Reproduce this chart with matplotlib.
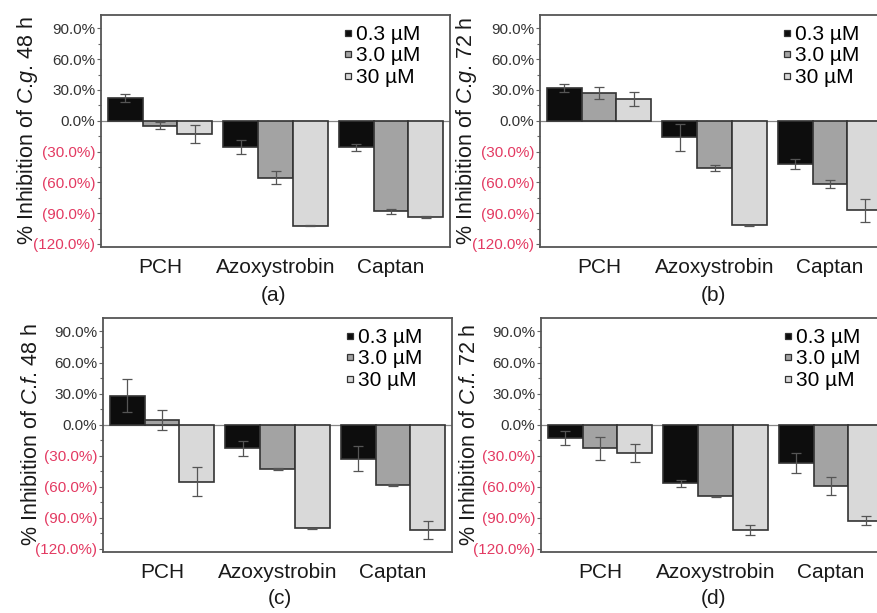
import matplotlib
matplotlib.use("Agg")
import matplotlib.pyplot as plt
import numpy as np
from matplotlib.lines import Line2D
from matplotlib.ticker import MultipleLocator

plt.rcParams["font.family"] = ["Liberation Sans", "DejaVu Sans"]
plt.rcParams["mathtext.fontset"] = "custom"
plt.rcParams["mathtext.rm"] = "Liberation Sans"
plt.rcParams["mathtext.it"] = "Liberation Sans:italic"

compounds = ["PCH", "Azoxystrobin", "Captan"]
doses = ["0.3 µM", "3.0 µM", "30 µM"]
panel_tags = ["(a)", "(b)", "(c)", "(d)"]
ylabels = [r"% Inhibition of $\it{C}$.$\it{g}$. 48 h", r"% Inhibition of $\it{C}$.$\it{g}$. 72 h",
           r"% Inhibition of $\it{C}$.$\it{f}$. 48 h", r"% Inhibition of $\it{C}$.$\it{f}$. 72 h"]

# mean % inhibition, rows = dose (0.3, 3.0, 30 µM), cols = compound
cg48 = [[21.8, -25.7, -25.7], [-4.9, -55.6, -88.4], [-13.0, -102.3, -94.2]]
cg48_err = [[4.0, 7.0, 3.5], [3.5, 6.5, 2.0], [9.0, 0.5, 1.0]]
cg72 = [[31.5, -16.0, -42.0], [27.0, -46.0, -62.0], [20.9, -102.0, -87.4]]
cg72_err = [[3.9, 13.0, 5.0], [5.5, 3.0, 4.0], [7.0, 0.5, 11.4]]
cf48 = [[27.9, -23.0, -33.0], [4.4, -42.5, -58.3], [-55.0, -100.0, -101.7]]
cf48_err = [[16.0, 7.0, 12.0], [10.0, 1.0, 0.5], [14.0, 0.5, 9.0]]
cf72 = [[-12.8, -56.5, -36.7], [-23.0, -69.0, -59.4], [-27.4, -101.5, -92.6]]
cf72_err = [[6.4, 3.5, 9.6], [11.0, 0.5, 8.5], [9.0, 5.0, 4.6]]

values = [cg48, cg72, cf48, cf72]
errors = [cg48_err, cg72_err, cf48_err, cf72_err]

bar_colors = ["#0d0d0d", "#a3a3a3", "#d9d9d9"]
edge = "#333333"
red = "#e33a62"

# axes boxes in pixels (left, top, bottom); right panels run past the edge
W, H = 877, 613
boxes = [(101, 15, 247), (540, 15, 247), (103, 318, 552), (541, 318, 552)]
tag_pos = [(273, 295), (713, 295), (280, 598), (713, 598)]
axw = 349

fig = plt.figure(figsize=(W / 100, H / 100), dpi=100)

x = np.arange(len(compounds))
bw = 0.3

for i in range(4):
    l, t, b = boxes[i]
    ax = fig.add_axes([l / W, 1 - b / H, axw / W, (b - t) / H])
    vals = np.array(values[i])
    errs = np.array(errors[i])
    for j in range(3):
        ax.bar(x + (j - 1) * bw, vals[j], bw, color=bar_colors[j],
               edgecolor=edge, linewidth=1.2, zorder=2)
        ax.errorbar(x + (j - 1) * bw, vals[j], yerr=errs[j], fmt="none",
                    ecolor="#555555", elinewidth=0.9, capsize=3.5, capthick=0.9,
                    zorder=3)
    ax.axhline(0, color="#888888", linewidth=0.9, zorder=1)
    ax.set_xlim(-0.51, 2.51)
    ax.set_ylim(-123, 103)
    ax.set_xticks(x)
    ax.set_xticklabels(compounds, fontsize=15)
    ax.tick_params(axis="x", length=0, pad=8, colors="#1a1a1a")
    ax.yaxis.set_major_locator(MultipleLocator(30))
    ax.yaxis.set_minor_locator(MultipleLocator(15))
    ticks = np.arange(-120, 91, 30)
    ax.set_yticks(ticks)
    labs = [f"{v:.1f}%" if v >= 0 else f"({-v:.1f}%)" for v in ticks]
    ax.set_yticklabels(labs, fontsize=11)
    for tl, v in zip(ax.get_yticklabels(), ticks):
        tl.set_color(red if v < 0 else "#333333")
    ax.tick_params(axis="y", which="major", length=3, width=0.8, color="#666666", pad=1)
    ax.tick_params(axis="y", which="minor", length=2, width=0.8, color="#666666")
    for s in ax.spines.values():
        s.set_color("#555555")
        s.set_linewidth(1.3)
    ax.set_ylabel(ylabels[i], fontsize=15.5, color="#1a1a1a")
    ax.yaxis.set_label_coords(-0.175, 0.5)

    handles = [Line2D([], [], linestyle="none", marker="s", markersize=5,
                      markerfacecolor=c, markeredgecolor=edge, markeredgewidth=0.9)
               for c in bar_colors]
    ax.legend(handles, doses, loc="upper left", bbox_to_anchor=(0.65, 1.02),
              frameon=False, fontsize=15, handlelength=0.5, handletextpad=0.15,
              labelspacing=0.12, borderpad=0.2)

    tx, ty = tag_pos[i]
    fig.text(tx / W, 1 - ty / H, panel_tags[i], fontsize=15, ha="center",
             va="center", color="#1a1a1a")

fig.savefig("out.png", dpi=100, facecolor="white")
